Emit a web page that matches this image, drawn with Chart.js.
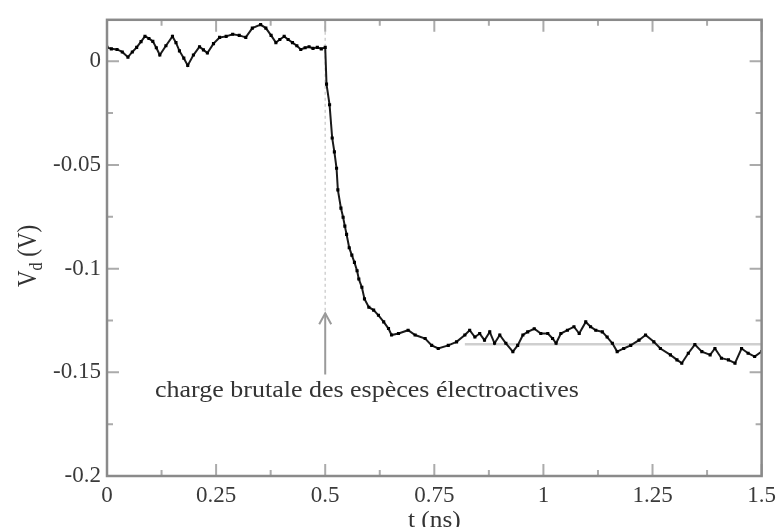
<!DOCTYPE html>
<html>
<head>
<meta charset="utf-8">
<script src="https://cdn.jsdelivr.net/npm/chart.js@4"></script>
<style>
  html, body { margin: 0; padding: 0; background: #fff; }
  #wrap { width: 782px; height: 527px; }
</style>
</head>
<body>
<div id="wrap"><canvas id="chart" width="782" height="527"></canvas></div>
<script>
const timeNs = [
  0.000, 0.010, 0.023, 0.035, 0.048, 0.058, 0.068, 0.078, 0.087, 0.096,
  0.105, 0.113, 0.121, 0.135, 0.150, 0.158, 0.166, 0.176, 0.185, 0.198,
  0.212, 0.221, 0.230, 0.244, 0.258, 0.273, 0.288, 0.303, 0.318, 0.333,
  0.352, 0.364, 0.376, 0.387, 0.396, 0.406, 0.415, 0.425, 0.435, 0.444,
  0.454, 0.463, 0.472, 0.482, 0.491, 0.500,
  0.503, 0.510, 0.516, 0.521, 0.526, 0.529, 0.536, 0.541, 0.545, 0.549,
  0.555, 0.561, 0.567, 0.573, 0.577, 0.584, 0.590, 0.600, 0.611, 0.622,
  0.634, 0.645, 0.652, 0.668, 0.690, 0.706, 0.729, 0.744, 0.759, 0.782,
  0.801, 0.820, 0.831, 0.843, 0.854, 0.865, 0.877, 0.888, 0.900, 0.914,
  0.930, 0.941, 0.953, 0.964, 0.979, 0.994, 1.010, 1.021, 1.029, 1.040,
  1.055, 1.070, 1.082, 1.097, 1.108, 1.120, 1.135, 1.146, 1.158, 1.169,
  1.184, 1.200, 1.219, 1.234, 1.253, 1.268, 1.291, 1.306, 1.317, 1.332,
  1.347, 1.363, 1.382, 1.393, 1.408, 1.424, 1.439, 1.454, 1.469, 1.484,
  1.500
];
const voltageV = [
  0.0067, 0.0060, 0.0057, 0.0045, 0.0020, 0.0045, 0.0067, 0.0095, 0.0120, 0.0110,
  0.0096, 0.0065, 0.0030, 0.0075, 0.0120, 0.0090, 0.0050, 0.0015, -0.0020, 0.0030,
  0.0070, 0.0055, 0.0040, 0.0085, 0.0115, 0.0120, 0.0130, 0.0125, 0.0115, 0.0160,
  0.0177, 0.0160, 0.0125, 0.0090, 0.0105, 0.0120, 0.0105, 0.0090, 0.0075, 0.0057,
  0.0065, 0.0070, 0.0062, 0.0067, 0.0060, 0.0067,
  -0.0110, -0.0210, -0.0370, -0.0437, -0.0516, -0.0620, -0.0708, -0.0752, -0.0795, -0.0835,
  -0.0899, -0.0935, -0.0970, -0.1010, -0.1050, -0.1090, -0.1146, -0.1186, -0.1200, -0.1225,
  -0.1257, -0.1289, -0.1320, -0.1313, -0.1297, -0.1320, -0.1337, -0.1370, -0.1385, -0.1370,
  -0.1353, -0.1320, -0.1297, -0.1330, -0.1313, -0.1345, -0.1305, -0.1360, -0.1320, -0.1360,
  -0.1400, -0.1370, -0.1320, -0.1305, -0.1290, -0.1313, -0.1313, -0.1337, -0.1360, -0.1313,
  -0.1297, -0.1280, -0.1313, -0.1257, -0.1280, -0.1297, -0.1305, -0.1330, -0.1360, -0.1400,
  -0.1385, -0.1370, -0.1345, -0.1320, -0.1353, -0.1385, -0.1416, -0.1440, -0.1456, -0.1408,
  -0.1366, -0.1400, -0.1416, -0.1385, -0.1432, -0.1440, -0.1456, -0.1385, -0.1408, -0.1424,
  -0.1400
];

// palier final (trait gris) et repère à t = 0.5 ns
const plateauT = [0.82, 1.5];
const plateauV = [-0.1365, -0.1365];
const markerT = [0.5, 0.5];
const markerV = [0.02, -0.121];
const arrowT = [0.5, 0.5];
const arrowV = [-0.151, -0.1215];

const xTickValues = [0, 0.25, 0.5, 0.75, 1, 1.25, 1.5];
const xTickLabels = ['0', '0.25', '0.5', '0.75', '1', '1.25', '1.5'];
const yTickValues = [0, -0.05, -0.1, -0.15, -0.2];
const yTickLabels = ['0', '-0.05', '-0.1', '-0.15', '-0.2'];

const annotationText = 'charge brutale des espèces électroactives';
const xTitle = 't (ns)';

const SERIF = '"Liberation Serif", "DejaVu Serif", serif';

function toPoints(xs, ys) {
    return xs.map((x, i) => ({ x: x, y: ys[i] }));
}

// cadre, graduations rentrantes, textes
const decorations = {
    id: 'decorations',
    afterDatasetsDraw(chart) {
        const { ctx, chartArea: a, scales: { x, y } } = chart;
        ctx.save();

        // graduations (majeures + mineures) sur les 4 côtés
        ctx.strokeStyle = '#ababab';
        ctx.lineWidth = 2;
        ctx.beginPath();
        for (let i = 0; i <= 12; i++) {
            const px = x.getPixelForValue(i * 0.125);
            const len = i % 2 === 0 ? 12 : 6;
            ctx.moveTo(px, a.bottom); ctx.lineTo(px, a.bottom - len);
            ctx.moveTo(px, a.top); ctx.lineTo(px, a.top + len);
        }
        for (let i = 0; i <= 8; i++) {
            const py = y.getPixelForValue(-0.2 + i * 0.025);
            const len = i % 2 === 0 ? 12 : 6;
            ctx.moveTo(a.left, py); ctx.lineTo(a.left + len, py);
            ctx.moveTo(a.right, py); ctx.lineTo(a.right - len, py);
        }
        ctx.stroke();

        ctx.strokeStyle = '#8a8a8a';
        ctx.lineWidth = 2.5;
        ctx.strokeRect(a.left, a.top, a.right - a.left, a.bottom - a.top);

        // pointe de flèche
        const ax = x.getPixelForValue(arrowT[1]);
        const ay = y.getPixelForValue(arrowV[1]);
        ctx.strokeStyle = '#9a9a9a';
        ctx.lineWidth = 2;
        ctx.beginPath();
        ctx.moveTo(ax - 6, ay + 11);
        ctx.lineTo(ax, ay);
        ctx.lineTo(ax + 6, ay + 11);
        ctx.stroke();

        // annotation (police un peu étirée comme sur l'original)
        ctx.fillStyle = '#333';
        ctx.font = '23px ' + SERIF;
        ctx.textAlign = 'left';
        ctx.textBaseline = 'alphabetic';
        ctx.save();
        ctx.translate(x.getPixelForValue(0.11), y.getPixelForValue(-0.162));
        ctx.scale(1.13, 1);
        ctx.fillText(annotationText, 0, 0);
        ctx.restore();

        // titre axe x
        ctx.textAlign = 'center';
        ctx.save();
        ctx.translate(x.getPixelForValue(0.75), 527);
        ctx.scale(1.1, 1);
        ctx.fillText(xTitle, 0, 0);
        ctx.restore();

        // titre axe y : V_d (V)
        ctx.translate(36, (a.top + a.bottom) / 2 + 8);
        ctx.rotate(-Math.PI / 2);
        ctx.scale(1, 1.15);
        ctx.textAlign = 'left';
        ctx.font = '23px ' + SERIF;
        const wV = ctx.measureText('V').width;
        ctx.font = '16px ' + SERIF;
        const wd = ctx.measureText('d').width;
        ctx.font = '23px ' + SERIF;
        const wRest = ctx.measureText(' (V)').width;
        let cx = -(wV + wd + wRest) / 2;
        ctx.fillText('V', cx, 0);
        cx += wV;
        ctx.font = '16px ' + SERIF;
        ctx.fillText('d', cx, 5);
        cx += wd;
        ctx.font = '23px ' + SERIF;
        ctx.fillText(' (V)', cx, 0);

        ctx.restore();
    }
};

new Chart(document.getElementById('chart'), {
    type: 'line',
    data: {
        datasets: [
            {
                data: toPoints(timeNs, voltageV),
                borderColor: '#1a1a1a',
                backgroundColor: '#000',
                borderWidth: 2,
                pointStyle: 'rect',
                pointRadius: 2.2,
                pointBorderWidth: 0,
                tension: 0,
                order: 0
            },
            {
                data: toPoints(plateauT, plateauV),
                borderColor: '#cfcfcf',
                borderWidth: 2.5,
                pointRadius: 0,
                order: 3
            },
            {
                data: toPoints(markerT, markerV),
                borderColor: '#d2d2d2',
                borderWidth: 1.5,
                borderDash: [3, 3],
                pointRadius: 0,
                order: 3
            },
            {
                data: toPoints(arrowT, arrowV),
                borderColor: '#9a9a9a',
                borderWidth: 2,
                pointRadius: 0,
                order: 2
            }
        ]
    },
    options: {
        responsive: false,
        animation: false,
        devicePixelRatio: 1,
        layout: { padding: { top: 14, right: 17, bottom: 0, left: 0 } },
        plugins: {
            legend: { display: false },
            tooltip: { enabled: false }
        },
        scales: {
            x: {
                type: 'linear',
                min: 0,
                max: 1.5,
                afterBuildTicks: (s) => { s.ticks = xTickValues.map(v => ({ value: v })); },
                afterFit: (s) => { s.height = 51; },
                grid: { display: false, drawTicks: false },
                border: { display: false },
                ticks: {
                    autoSkip: false,
                    maxRotation: 0,
                    padding: 6,
                    color: '#3a3a3a',
                    font: { family: SERIF, size: 23 },
                    callback: (v) => xTickLabels[xTickValues.indexOf(v)]
                }
            },
            y: {
                type: 'linear',
                min: -0.2,
                max: 0.02,
                afterBuildTicks: (s) => { s.ticks = yTickValues.map(v => ({ value: v })); },
                afterFit: (s) => { s.width = 107; },
                grid: { display: false, drawTicks: false },
                border: { display: false },
                ticks: {
                    autoSkip: false,
                    padding: 6,
                    color: '#3a3a3a',
                    font: { family: SERIF, size: 23 },
                    callback: (v) => yTickLabels[yTickValues.indexOf(v)]
                }
            }
        }
    },
    plugins: [decorations]
});
</script>
</body>
</html>
